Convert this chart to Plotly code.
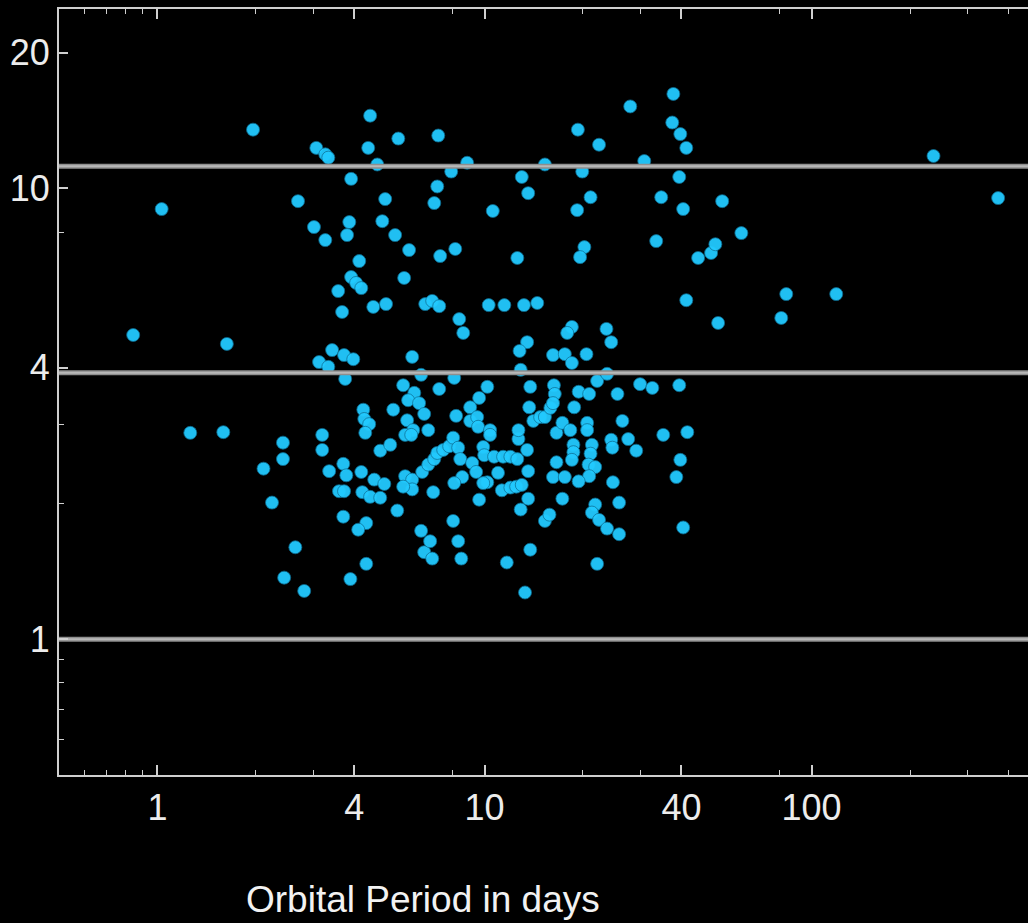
import plotly.graph_objects as go
import math

# Orbital period (days) and planet radius (Earth radii) for each detected planet
period = [
    0.843, 1.03, 1.26, 1.59, 1.63, 1.96, 2.11, 2.24, 2.42, 2.42, 2.44, 2.64, 2.69, 2.81,
    3.06, 3.26, 3.33, 4.47, 4.41, 5.45, 7.22, 4.70, 8.85, 7.91, 3.91, 7.17, 4.97, 7.02,
    3.01, 3.86, 4.87, 3.26, 3.80, 5.33, 5.88, 7.32, 8.14, 4.14, 5.68, 3.91, 4.05, 4.20,
    3.57, 3.67, 4.57, 5.00, 6.59, 6.92, 7.27,
    37.8, 27.9, 19.3, 37.5, 39.7, 41.4, 22.4, 15.3, 30.8, 13.0, 19.9, 39.4, 13.6, 21.1,
    34.7, 53.3, 10.6, 19.2, 40.5, 33.5, 20.2, 19.6, 12.6, 45.0, 49.3, 50.8, 41.4, 10.3,
    11.5, 13.2, 14.5,
    236, 372, 61.0, 83.7, 119, 51.8, 80.8,
    8.37, 8.61, 13.5, 12.8, 3.42, 3.12, 3.33, 3.72, 3.97, 3.75, 6.01, 6.40, 5.64, 7.27,
    6.10, 5.84, 6.31, 6.54, 5.80, 6.05, 5.72, 5.97, 6.73, 5.26, 4.26, 4.29, 4.44, 4.32,
    3.19, 3.19, 4.80, 5.15, 3.35, 3.70, 3.78, 3.59, 3.72, 4.20, 4.23, 4.47, 4.80, 4.60,
    4.94, 5.72, 6.01, 6.01, 5.64, 5.41, 3.70, 4.35, 4.11, 6.45, 6.73, 7.02, 7.17, 7.48,
    7.80, 6.97, 6.40, 6.54, 6.82, 6.92, 4.35, 3.89,
    16.2, 17.6, 20.5, 18.5, 12.9, 8.08, 22.1, 23.7, 29.9, 32.6, 39.4, 10.2, 9.63, 13.8,
    16.3, 16.4, 19.4, 20.9, 25.5, 9.04, 8.19, 9.04, 9.50, 9.56, 10.4, 10.4, 8.02, 8.31,
    8.43, 9.91, 9.98, 9.17, 9.43, 8.55, 8.08, 10.7, 11.4, 12.0, 12.6, 11.0, 10.2, 9.91,
    9.63, 11.3, 12.0, 12.5, 13.0, 13.6, 12.9, 8.02, 8.31, 8.49, 11.7, 13.8, 13.3, 12.7,
    12.7, 13.7, 14.1, 14.8, 15.3, 15.9, 16.2, 13.5, 13.6, 16.6, 17.3, 18.3, 18.8, 20.6,
    20.6, 16.6, 18.7, 18.7, 18.5, 21.3, 21.1, 20.8, 21.8, 20.9, 16.2, 17.6, 19.4, 17.3,
    15.3, 15.8, 21.8, 21.3, 22.4, 23.7, 25.8, 25.8, 24.7, 24.4, 24.6, 26.4, 27.5, 29.1,
    35.2, 41.7, 39.7, 38.6, 40.5, 22.1,
    18.5, 17.9, 23.6, 24.4,
]
radius = [
    4.73, 9.00, 2.87, 2.88, 4.52, 13.5, 2.39, 2.01, 2.73, 2.51, 1.37, 1.60, 9.37, 1.28,
    12.3, 11.9, 11.7, 14.5, 12.3, 12.9, 13.1, 11.3, 11.4, 10.9, 10.5, 10.1, 9.47, 9.28,
    8.21, 8.42, 8.46, 7.68, 7.88, 7.88, 7.30, 7.08, 7.34, 6.90, 6.33, 6.36, 6.17, 6.01,
    5.92, 5.32, 5.46, 5.54, 5.54, 5.63, 5.48,
    16.2, 15.2, 13.5, 14.0, 13.2, 12.3, 12.5, 11.3, 11.5, 10.6, 10.9, 10.6, 9.76, 9.56,
    9.56, 9.37, 8.91, 8.95, 9.00, 7.64, 7.41, 7.04, 7.01, 7.01, 7.19, 7.52, 5.65, 5.51,
    5.51, 5.51, 5.57,
    11.8, 9.52, 7.96, 5.83, 5.83, 5.03, 5.16,
    5.13, 4.78, 4.56, 4.36, 4.38, 4.12, 4.02, 4.27, 4.18, 3.78, 4.23, 3.86, 3.66, 3.59,
    3.52, 3.39, 3.34, 3.16, 3.06, 2.91, 2.84, 2.84, 2.91, 3.23, 3.23, 3.08, 3.00, 2.87,
    2.84, 2.63, 2.62, 2.70, 2.36, 2.45, 2.31, 2.13, 2.13, 2.35, 2.12, 2.07, 2.06, 2.26,
    2.21, 2.30, 2.26, 2.15, 2.18, 1.93, 1.87, 1.81, 1.75, 2.35, 2.44, 2.51, 2.59, 2.63,
    2.68, 2.12, 1.74, 1.56, 1.65, 1.51, 1.47, 1.36,
    4.27, 4.29, 4.29, 4.10, 3.96, 3.80, 3.74, 3.88, 3.68, 3.61, 3.66, 3.63, 3.43, 3.63,
    3.66, 3.50, 3.54, 3.50, 3.50, 3.27, 3.13, 3.05, 3.11, 2.96, 2.91, 2.84, 2.80, 2.66,
    2.51, 2.67, 2.56, 2.46, 2.35, 2.29, 2.22, 2.54, 2.54, 2.54, 2.51, 2.34, 2.23, 2.22,
    2.04, 2.14, 2.17, 2.18, 2.20, 2.05, 1.94, 1.83, 1.65, 1.51, 1.48, 1.58, 1.27, 2.78,
    2.91, 3.27, 3.05, 3.11, 3.11, 3.26, 3.34, 2.63, 2.36, 2.87, 3.02, 2.91, 3.27, 3.02,
    2.91, 2.47, 2.70, 2.60, 2.50, 2.70, 2.58, 2.44, 2.41, 2.30, 2.29, 2.29, 2.24, 2.05,
    1.83, 1.89, 1.99, 1.91, 1.84, 1.76, 1.71, 2.01, 2.23, 2.77, 2.66, 3.05, 2.78, 2.62,
    2.84, 2.88, 2.50, 2.29, 1.77, 1.47,
    4.93, 4.78, 4.88, 4.56,
]

# Reference radii: Earth, Neptune, Jupiter
reference_radii = [1.0, 3.9, 11.2]

x_major = [1, 4, 10, 40, 100]
x_minor = [0.6, 0.7, 0.8, 0.9, 2, 3, 8, 20, 30, 80, 200, 300, 400]
y_major = [1, 4, 10, 20]
y_minor = [0.6, 0.7, 0.8, 0.9, 2, 3, 8]

x_lo, x_hi = 0.5, 459
y_lo, y_hi = 0.5, 25

axis_col = "#cfcfcf"
label_font = dict(family="Liberation Sans, Arial, sans-serif", size=36, color="#ececec")

fig = go.Figure()

fig.add_trace(go.Scatter(
    x=period, y=radius, mode="markers",
    marker=dict(size=13, color="#22caff", opacity=0.95,
                line=dict(color="#0e6f94", width=0.8)),
    hoverinfo="x+y", showlegend=False,
))

for r in reference_radii:
    fig.add_trace(go.Scatter(
        x=[x_lo, x_hi], y=[r, r], mode="lines",
        line=dict(color="#8e8e8e", width=5),
        hoverinfo="skip", showlegend=False,
    ))
    fig.add_trace(go.Scatter(
        x=[x_lo, x_hi], y=[r, r], mode="lines",
        line=dict(color="#b8b8b8", width=2),
        hoverinfo="skip", showlegend=False,
    ))

fig.update_xaxes(
    type="log", range=[math.log10(x_lo), math.log10(x_hi)],
    tickmode="array", tickvals=x_major, ticktext=[str(v) for v in x_major],
    ticks="inside", ticklen=10, tickwidth=1.5, tickcolor=axis_col,
    minor=dict(tickvals=x_minor, ticks="inside", ticklen=5, tickwidth=1.2, tickcolor=axis_col),
    showline=True, linecolor=axis_col, linewidth=2, mirror="ticks",
    showgrid=False, zeroline=False, tickfont=label_font,
)
fig.update_yaxes(
    type="log", range=[math.log10(y_lo), math.log10(y_hi)],
    tickmode="array", tickvals=y_major, ticktext=[str(v) for v in y_major],
    ticks="inside", ticklen=9, tickwidth=1.5, tickcolor=axis_col,
    minor=dict(tickvals=y_minor, ticks="inside", ticklen=5, tickwidth=1.2, tickcolor=axis_col),
    showline=True, linecolor=axis_col, linewidth=2, mirror=False,
    showgrid=False, zeroline=False, tickfont=label_font,
)

fig.add_annotation(
    text="Orbital Period in days", xref="paper", yref="paper",
    x=0.3756, y=-0.163, xanchor="center", yanchor="middle", showarrow=False,
    font=dict(family="Liberation Sans, Arial, sans-serif", size=37, color="#f2f2f2"),
)

fig.update_layout(
    width=1028, height=923,
    margin=dict(l=59, r=0, t=9, b=148),
    paper_bgcolor="black", plot_bgcolor="black",
)

fig.write_html("out.html")
